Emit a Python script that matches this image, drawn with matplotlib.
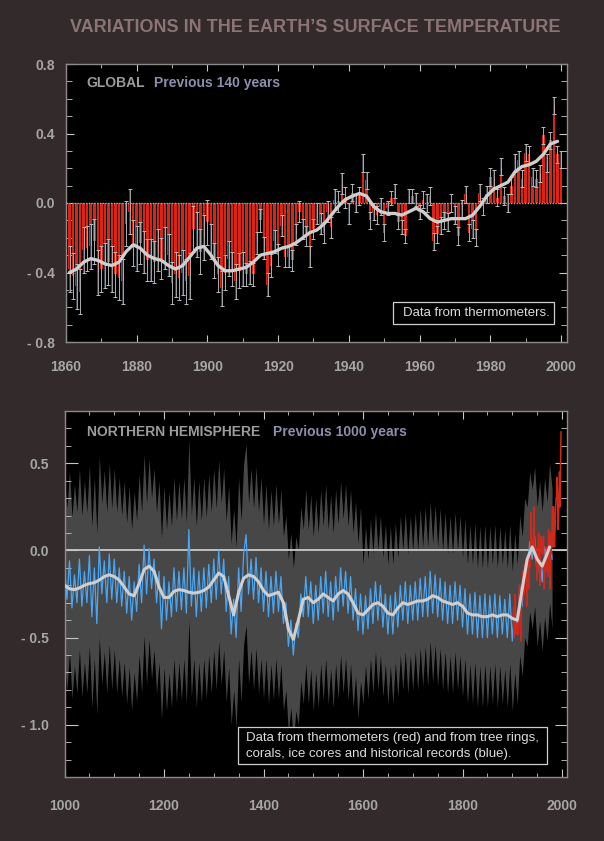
import numpy as np
import matplotlib
matplotlib.use("Agg")
import matplotlib.pyplot as plt
from matplotlib.patches import Rectangle
from matplotlib.ticker import MultipleLocator

plt.rcParams['font.family'] = ['Liberation Sans', 'DejaVu Sans']

# ---- global record, 1861-2000 (anomaly vs 1961-90, deg C) ----
glob_years = np.arange(1861, 2001)
glob_vals = [
    -0.38, -0.42, -0.48, -0.51, -0.27, -0.26, -0.25, -0.22, -0.40, -0.38,
    -0.36, -0.34, -0.38, -0.41, -0.43, -0.45, -0.12, -0.05, -0.23, -0.26,
    -0.23, -0.28, -0.33, -0.33, -0.34, -0.27, -0.32, -0.26, -0.30, -0.46,
    -0.41, -0.43, -0.40, -0.45, -0.42, -0.15, -0.18, -0.28, -0.20, -0.11,
    -0.22, -0.33, -0.41, -0.49, -0.40, -0.32, -0.38, -0.45, -0.39, -0.38,
    -0.41, -0.40, -0.41, -0.23, -0.10, -0.26, -0.47, -0.36, -0.22, -0.30,
    -0.13, -0.31, -0.31, -0.33, -0.18, -0.05, -0.15, -0.19, -0.31, -0.15,
    -0.06, -0.12, -0.17, -0.05, -0.14, 0.02, 0.01, 0.11, 0.03, -0.06,
    0.06, 0.00, 0.04, 0.23, 0.13, -0.10, -0.05, -0.07, -0.02, -0.17,
    -0.03, 0.03, 0.07, -0.11, -0.14, -0.19, 0.04, 0.04, 0.02, -0.05,
    0.02, 0.00, 0.04, -0.22, -0.18, -0.13, -0.10, -0.11, 0.00, -0.07,
    -0.19, -0.03, 0.05, -0.17, -0.15, -0.20, 0.06, -0.02, 0.05, 0.15,
    0.14, 0.03, 0.21, 0.04, 0.00, 0.10, 0.23, 0.25, 0.14, 0.29,
    0.28, 0.15, 0.14, 0.17, 0.39, 0.23, 0.36, 0.56, 0.28, 0.25,
]
# 2-sigma half width, one value per decade (1861-70 ... 1991-2000)
glob_err_decade = [0.13, 0.13, 0.12, 0.13, 0.10, 0.065, 0.06, 0.06,
                   0.05, 0.04, 0.05, 0.05, 0.05, 0.05]

# smoothed global curve
glob_smooth_years = [1861, 1863, 1865, 1867, 1869, 1871, 1873, 1875, 1877, 1879,
                     1881, 1883, 1885, 1887, 1889, 1891, 1893, 1895, 1897, 1899,
                     1901, 1903, 1905, 1907, 1909, 1911, 1913, 1915, 1917, 1919,
                     1921, 1923, 1925, 1927, 1929, 1931, 1933, 1935, 1937, 1939,
                     1941, 1943, 1945, 1947, 1949, 1951, 1953, 1955, 1957, 1959,
                     1961, 1963, 1965, 1967, 1969, 1971, 1973, 1975, 1977, 1979,
                     1981, 1983, 1985, 1987, 1989, 1991, 1993, 1995, 1997, 1999]
glob_smooth = [-0.40, -0.38, -0.34, -0.32, -0.33, -0.35, -0.36, -0.34, -0.28, -0.24,
               -0.26, -0.30, -0.32, -0.33, -0.36, -0.38, -0.36, -0.31, -0.26, -0.25,
               -0.30, -0.36, -0.39, -0.39, -0.38, -0.37, -0.34, -0.30, -0.29, -0.28,
               -0.26, -0.25, -0.23, -0.20, -0.17, -0.155, -0.12, -0.07, -0.02, 0.02,
               0.04, 0.055, 0.04, -0.02, -0.05, -0.06, -0.06, -0.07, -0.05, -0.03,
               -0.05, -0.09, -0.11, -0.10, -0.09, -0.09, -0.09, -0.07, -0.02, 0.04,
               0.08, 0.10, 0.12, 0.18, 0.21, 0.22, 0.24, 0.28, 0.34, 0.355]

# ---- northern hemisphere, 1000-1980 proxy reconstruction (5-yr samples) ----
nh_years = np.arange(1000, 1981, 5)
nh_recon = [
    -0.10, -0.28, -0.06, -0.33, -0.14, -0.30, -0.05, -0.32, -0.12, -0.30,
    -0.03, -0.38, -0.10, -0.42, 0.02, -0.25, -0.06, -0.30, -0.02, -0.28,
    -0.05, -0.30, -0.10, -0.32, -0.12, -0.36, -0.15, -0.40, -0.18, -0.35,
    -0.08, -0.30, 0.03, -0.25, 0.01, -0.22, -0.05, -0.30, -0.12, -0.45,
    -0.15, -0.40, -0.18, -0.38, -0.10, -0.35, -0.12, -0.34, -0.10, -0.36,
    0.12, -0.32, -0.10, -0.38, -0.12, -0.35, -0.10, -0.33, -0.08, -0.30,
    -0.05, -0.28, 0.00, -0.25, -0.05, -0.35, -0.15, -0.48, -0.28, -0.50,
    -0.10, -0.35, -0.02, 0.09, -0.25, -0.05, -0.28, -0.04, -0.30, -0.10,
    -0.35, -0.12, -0.38, -0.15, -0.36, -0.12, -0.35, -0.15, -0.42, -0.30,
    -0.55, -0.40, -0.60, -0.42, -0.50, -0.25, -0.38, -0.15, -0.38, -0.18,
    -0.42, -0.20, -0.40, -0.15, -0.36, -0.12, -0.38, -0.18, -0.40, -0.15,
    -0.35, -0.10, -0.32, -0.12, -0.36, -0.15, -0.40, -0.22, -0.46, -0.25,
    -0.48, -0.26, -0.45, -0.22, -0.42, -0.18, -0.40, -0.20, -0.44, -0.25,
    -0.48, -0.26, -0.48, -0.24, -0.44, -0.20, -0.40, -0.18, -0.42, -0.20,
    -0.40, -0.18, -0.40, -0.16, -0.38, -0.15, -0.38, -0.12, -0.36, -0.14,
    -0.38, -0.16, -0.40, -0.18, -0.42, -0.20, -0.42, -0.18, -0.40, -0.20,
    -0.44, -0.22, -0.48, -0.25, -0.48, -0.24, -0.50, -0.26, -0.50, -0.25,
    -0.50, -0.26, -0.48, -0.25, -0.50, -0.26, -0.48, -0.28, -0.50, -0.25,
    -0.52, -0.30, -0.48, -0.20, -0.32, -0.10, -0.15, 0.05, -0.05, 0.08,
    -0.15, 0.00, -0.18, 0.02, -0.12, 0.10, -0.05,
]
# 2-sigma half width of the uncertainty band by period
nh_err_start = [1000, 1400, 1600]
nh_err_width = [0.52, 0.50, 0.40]

# 40-year smoothed NH curve
nh_smooth_years = list(range(1000, 1971, 10)) + [1975]
nh_smooth = [
    -0.20, -0.22, -0.225, -0.215, -0.20, -0.19, -0.185, -0.17, -0.15, -0.14,
    -0.15, -0.17, -0.21, -0.25, -0.26, -0.19, -0.11, -0.09, -0.12, -0.21,
    -0.27, -0.27, -0.235, -0.225, -0.23, -0.24, -0.245, -0.24, -0.23, -0.21,
    -0.17, -0.13, -0.15, -0.26, -0.37, -0.24, -0.16, -0.14, -0.15, -0.18,
    -0.23, -0.26, -0.25, -0.24, -0.30, -0.45, -0.51, -0.40, -0.28, -0.27,
    -0.30, -0.28, -0.25, -0.27, -0.29, -0.25, -0.23, -0.25, -0.30, -0.36,
    -0.37, -0.34, -0.31, -0.30, -0.32, -0.36, -0.37, -0.33, -0.30, -0.31,
    -0.30, -0.29, -0.29, -0.28, -0.26, -0.27, -0.29, -0.30, -0.31, -0.30,
    -0.32, -0.36, -0.37, -0.37, -0.38, -0.38, -0.37, -0.38, -0.37, -0.37,
    -0.39, -0.40, -0.22, -0.05, 0.02, -0.05, -0.09, -0.02, 0.02,
]

# NH thermometer record 1902-1998
nh_inst_years = np.arange(1902, 1999)
nh_inst = [
    -0.35, -0.45, -0.50, -0.35, -0.25, -0.48, -0.45, -0.47, -0.42, -0.45,
    -0.48, -0.42, -0.20, -0.20, -0.38, -0.52, -0.35, -0.28, -0.27, -0.12,
    -0.27, -0.24, -0.25, -0.15, -0.08, -0.15, -0.12, -0.32, -0.06, -0.02,
    -0.05, -0.22, -0.04, -0.10, -0.05, 0.08, 0.22, 0.05, 0.02, 0.06,
    0.02, 0.10, 0.25, 0.05, -0.05, 0.02, -0.02, -0.03, -0.17, -0.02,
    0.02, 0.10, -0.10, -0.12, -0.20, 0.05, 0.08, 0.05, -0.02, 0.05,
    0.05, 0.08, -0.22, -0.15, -0.10, -0.05, -0.12, 0.02, -0.02, -0.15,
    -0.05, 0.12, -0.12, -0.05, -0.22, 0.10, -0.02, 0.05, 0.15, 0.25,
    0.02, 0.25, 0.05, 0.02, 0.12, 0.22, 0.30, 0.30, 0.42, 0.33,
    0.12, 0.18, 0.30, 0.45, 0.25, 0.48, 0.68,
]

BG = '#332a2b'
W, H = 604, 841


def fx(px):
    return px / W


def fy(py):
    return 1 - py / H


fig = plt.figure(figsize=(W / 100, H / 100), dpi=100, facecolor=BG)

fig.text(fx(315), fy(28), "VARIATIONS IN THE EARTH\u2019S SURFACE TEMPERATURE",
         ha='center', va='center', color='#8c7474', fontsize=13, fontweight='bold')


def style_axes(ax):
    ax.set_facecolor('black')
    for s in ax.spines.values():
        s.set_color('#8a8a8a')
        s.set_linewidth(1.0)
    ax.tick_params(which='both', direction='in', top=True, right=True,
                   color='#c8c8c8', labelcolor='#a6a6a6', labelsize=10)
    for lab in ax.get_xticklabels() + ax.get_yticklabels():
        lab.set_fontweight('bold')


# ---------------- top panel ----------------
ax1 = fig.add_axes([fx(66), fy(342), (567 - 66) / W, (342 - 64) / H])
vals = np.array(glob_vals)
err = np.repeat(glob_err_decade, 10)
ax1.bar(glob_years, vals, width=0.72, color='#dc2414', zorder=2)
ax1.bar(glob_years, 2 * err, bottom=vals - err, width=0.3,
        color='#3a414c', zorder=3)
ax1.errorbar(glob_years, vals, yerr=err, fmt='none', ecolor='#bdbdbd',
             elinewidth=0.6, capsize=1.4, capthick=0.7, zorder=4)
ax1.axhline(0, color='#a8a8a8', lw=1.0, ls=(0, (1, 1)), zorder=5)
ax1.plot(glob_smooth_years, glob_smooth, color='#cfcfcf', lw=2.4,
         solid_capstyle='round', zorder=6)
ax1.set_xlim(1860, 2001.7)
ax1.set_ylim(-0.8, 0.8)
ax1.xaxis.set_major_locator(MultipleLocator(20))
ax1.xaxis.set_minor_locator(MultipleLocator(10))
ax1.set_yticks([-0.8, -0.4, 0.0, 0.4, 0.8])
ax1.set_yticklabels(['- 0.8', '- 0.4', '0.0', '0.4', '0.8'])
ax1.yaxis.set_minor_locator(MultipleLocator(0.1))
style_axes(ax1)
ax1.tick_params(axis='x', which='major', length=5, pad=13)
ax1.tick_params(axis='x', which='minor', length=3)
ax1.tick_params(axis='y', which='major', length=6, pad=8)
ax1.tick_params(axis='y', which='minor', length=4)

fig.text(fx(86), fy(83), "GLOBAL", color='#9c9c9c', fontsize=10,
         fontweight='bold', va='center')
fig.text(fx(154), fy(83), "Previous 140 years", color='#8e8eae', fontsize=10,
         fontweight='bold', va='center')

fig.patches.append(Rectangle((fx(393), fy(324)), (554 - 393) / W, 22 / H,
                             transform=fig.transFigure, facecolor='black',
                             edgecolor='#cfcfcf', lw=0.9, zorder=10))
fig.text(fx(403), fy(313.5), "Data from thermometers.", color='#dcdcdc',
         fontsize=9.5, va='center', zorder=11)

# ---------------- bottom panel ----------------
ax2 = fig.add_axes([fx(64.5), fy(777), (567 - 64.5) / W, (777 - 411) / H])
recon = np.array(nh_recon)
idx = np.searchsorted(nh_err_start, nh_years, side='right') - 1
half = np.array(nh_err_width)[idx]
ax2.fill_between(nh_years, recon - half, recon + half, color='#474747',
                 lw=0, zorder=1)
ax2.axhline(0, color='#c8c8c8', lw=1.3, zorder=2)
ax2.plot(nh_years, recon, color='#4aa6f2', lw=0.9, zorder=3)
ax2.plot(nh_inst_years, nh_inst, color='#d0281a', lw=1.1, zorder=4)
ax2.plot(nh_smooth_years, nh_smooth, color='#cfcfcf', lw=2.2,
         solid_capstyle='round', zorder=5)
ax2.set_xlim(1000, 2010)
ax2.set_ylim(-1.3, 0.8)
ax2.xaxis.set_major_locator(MultipleLocator(200))
ax2.xaxis.set_minor_locator(MultipleLocator(50))
ax2.set_yticks([-1.0, -0.5, 0.0, 0.5])
ax2.set_yticklabels(['- 1.0', '- 0.5', '0.0', '0.5'])
ax2.yaxis.set_minor_locator(MultipleLocator(0.1))
style_axes(ax2)
ax2.tick_params(axis='x', which='major', length=6, pad=16)
ax2.tick_params(axis='x', which='minor', length=3)
ax2.tick_params(axis='y', which='major', length=9, pad=11)
ax2.tick_params(axis='y', which='minor', length=4)

fig.text(fx(87), fy(432), "NORTHERN HEMISPHERE", color='#9c9c9c', fontsize=10,
         fontweight='bold', va='center')
fig.text(fx(273), fy(432), "Previous 1000 years", color='#8e8eae', fontsize=10,
         fontweight='bold', va='center')

fig.patches.append(Rectangle((fx(238), fy(764)), (547 - 238) / W, 37 / H,
                             transform=fig.transFigure, facecolor='black',
                             edgecolor='#cfcfcf', lw=0.9, zorder=10))
fig.text(fx(246), fy(738), "Data from thermometers (red) and from tree rings,",
         color='#dcdcdc', fontsize=9.5, va='center', zorder=11)
fig.text(fx(246), fy(754), "corals, ice cores and historical records (blue).",
         color='#dcdcdc', fontsize=9.5, va='center', zorder=11)

fig.savefig("out.png", dpi=100, facecolor=BG)
